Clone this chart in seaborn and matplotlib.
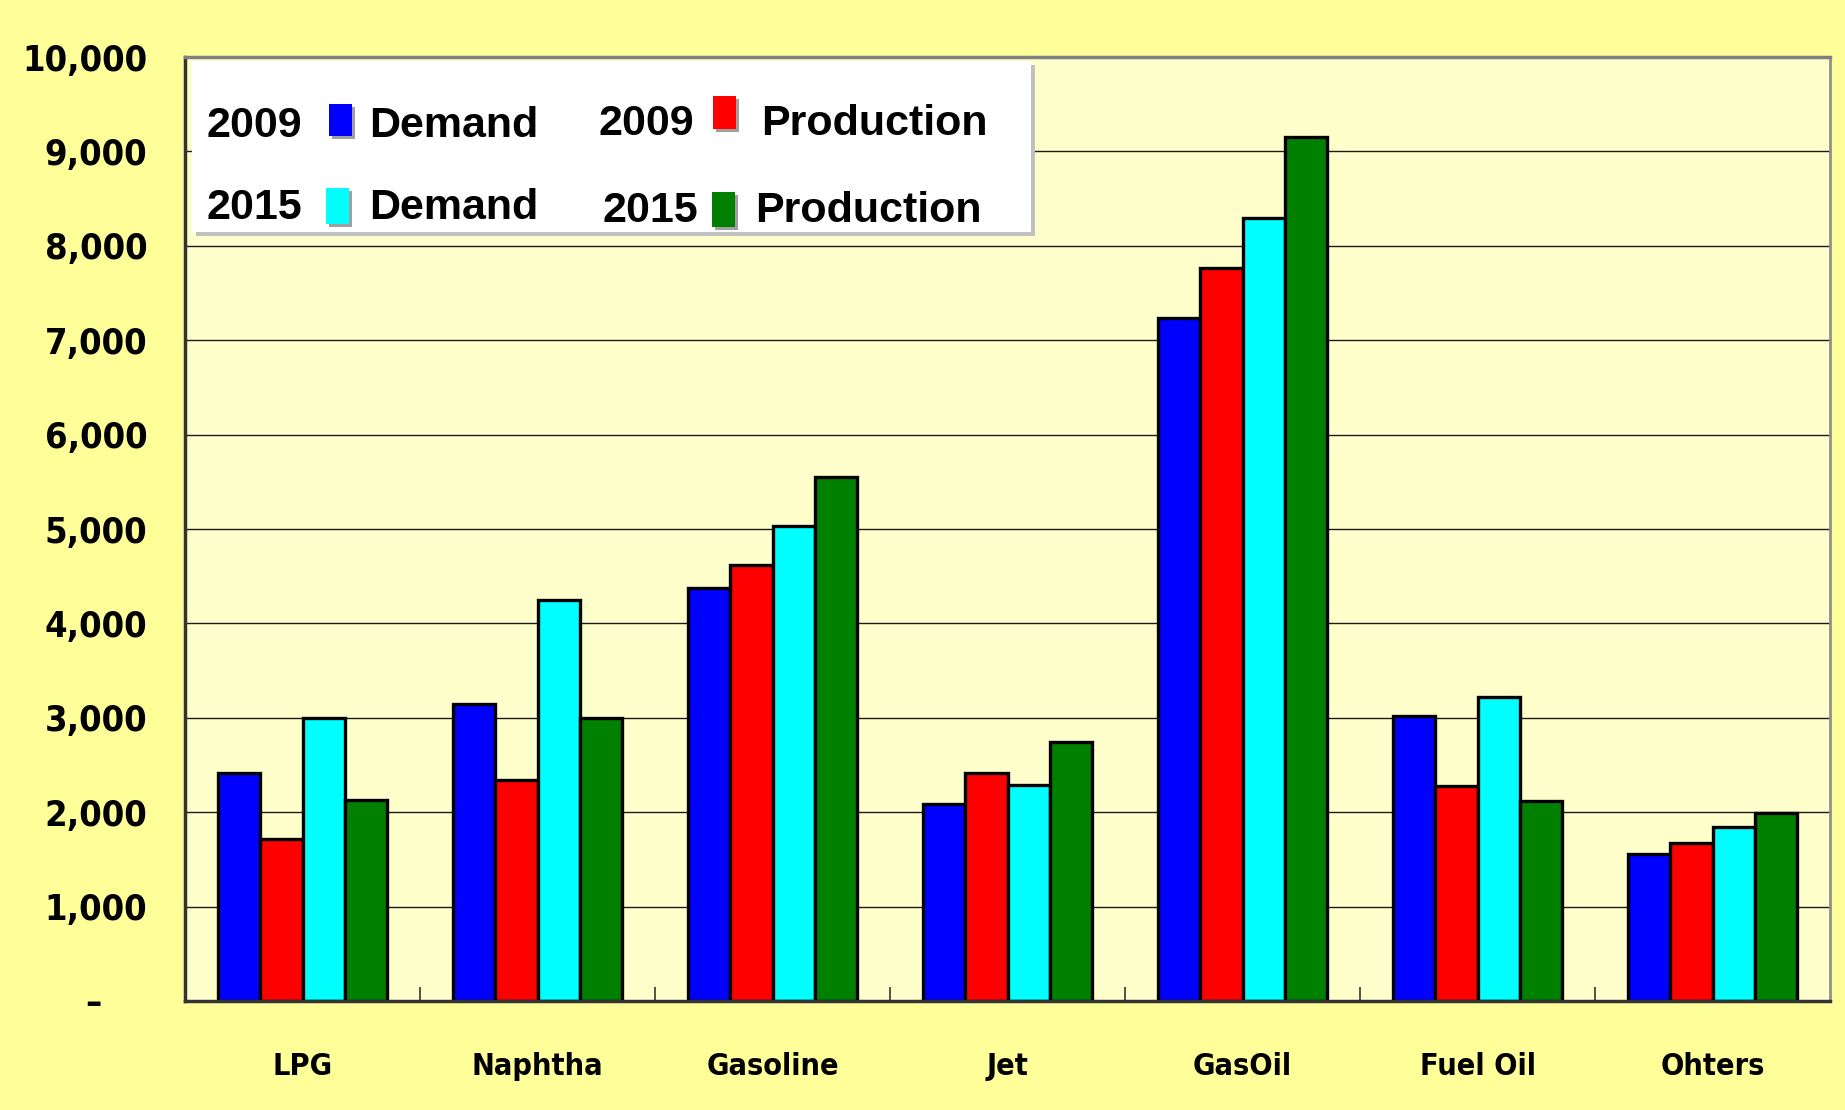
import matplotlib
matplotlib.use('Agg')
import matplotlib.pyplot as plt
from matplotlib.patches import Rectangle
from matplotlib.ticker import FixedLocator, FuncFormatter
import seaborn as sns
import pandas as pd
import numpy as np

categories = ['LPG', 'Naphtha', 'Gasoline', 'Jet', 'GasOil', 'Fuel Oil', 'Ohters']
series_names = ['2009 Demand', '2009 Production', '2015 Demand', '2015 Production']
demand_2009 = [2420, 3150, 4370, 2090, 7240, 3020, 1560]
production_2009 = [1720, 2340, 4620, 2420, 7760, 2280, 1670]
demand_2015 = [3000, 4250, 5030, 2290, 8290, 3220, 1840]
production_2015 = [2130, 3000, 5550, 2740, 9150, 2120, 1990]
y_ticks = list(range(0, 10001, 1000))

def main():
    fig_bg = '#FFFF99'
    plot_bg = '#FFFFCC'
    palette = ['#0000FF', '#FF0000', '#00FFFF', '#008000']
    legend_font = ['Liberation Sans', 'DejaVu Sans']

    rows = []
    for name, vals in zip(series_names, [demand_2009, production_2009, demand_2015, production_2015]):
        for cat, v in zip(categories, vals):
            rows.append({'category': cat, 'series': name, 'value': v})
    df = pd.DataFrame(rows)

    W, H = 1845, 1110
    fig = plt.figure(figsize=(W / 100, H / 100), dpi=100, facecolor=fig_bg)
    ax = fig.add_axes([185 / W, 1 - 1001 / H, (1830 - 185) / W, (1001 - 57) / H])
    ax.set_facecolor(plot_bg)

    sns.barplot(data=df, x='category', y='value', hue='series', hue_order=series_names,
                order=categories, palette=palette, saturation=1, width=0.72, gap=0,
                edgecolor='black', linewidth=2.4, legend=False, ax=ax)

    ax.set_xlim(-0.5, len(categories) - 0.5)
    ax.set_ylim(0, 10000)
    ax.set_axisbelow(True)
    ax.yaxis.grid(True, color='#1a1a1a', linewidth=1.0)
    ax.xaxis.grid(False)

    ax.set_yticks(y_ticks)
    ax.yaxis.set_major_formatter(FuncFormatter(lambda v, p: '–    ' if v == 0 else f'{int(v):,}'))
    ax.tick_params(axis='y', length=0, pad=27)
    ax.tick_params(axis='x', length=0, pad=37)
    ax.xaxis.set_minor_locator(FixedLocator(np.arange(0.5, len(categories) - 1, 1.0)))
    ax.tick_params(axis='x', which='minor', direction='in', length=10, width=1.2, color='#333333')
    for lbl in ax.get_yticklabels():
        lbl.set_fontfamily('DejaVu Sans')
        lbl.set_fontstretch('condensed')
        lbl.set_fontweight('bold')
        lbl.set_fontsize(26)
    for lbl in ax.get_xticklabels():
        lbl.set_fontfamily('DejaVu Sans')
        lbl.set_fontstretch('condensed')
        lbl.set_fontweight('bold')
        lbl.set_fontsize(22)
    ax.set_xlabel('')
    ax.set_ylabel('')

    ax.spines['left'].set_color('#333333')
    ax.spines['left'].set_linewidth(2.5)
    ax.spines['bottom'].set_color('#333333')
    ax.spines['bottom'].set_linewidth(2.5)
    ax.spines['top'].set_color('#808080')
    ax.spines['top'].set_linewidth(2.5)
    ax.spines['right'].set_color('#909090')
    ax.spines['right'].set_linewidth(2.0)

    # custom legend box (year, swatch, label)
    def fx(x):
        return x / W

    def fy(y):
        return 1 - y / H

    fig.patches.append(Rectangle((fx(196), fy(236)), (1031 - 192) / W, (232 - 61) / H,
                                 transform=fig.transFigure, facecolor='#C0C0C0', edgecolor='none', zorder=5))
    fig.patches.append(Rectangle((fx(192), fy(232)), (1031 - 192) / W, (232 - 61) / H,
                                 transform=fig.transFigure, facecolor='white', edgecolor='none', zorder=6))

    swatches = [(329, 104, 136, palette[0]), (713, 96, 129, palette[1]),
                (326, 188, 224, palette[2]), (712, 192, 227, palette[3])]
    for x0, y0, y1, c in swatches:
        fig.patches.append(Rectangle((fx(x0 + 3), fy(y1 + 3)), 23 / W, (y1 - y0) / H,
                                     transform=fig.transFigure, facecolor='#A0A0A0', edgecolor='none', zorder=7))
        fig.patches.append(Rectangle((fx(x0), fy(y1)), 23 / W, (y1 - y0) / H,
                                     transform=fig.transFigure, facecolor=c, edgecolor='none', zorder=8))

    legend_texts = [(206, 126, '2009'), (369, 126, 'Demand'), (598, 124, '2009'), (761, 124, 'Production'),
                    (206, 208, '2015'), (369, 208, 'Demand'), (602, 211, '2015'), (755, 211, 'Production')]
    for x, y, s in legend_texts:
        fig.text(fx(x), fy(y), s, ha='left', va='center', fontsize=31, fontweight='bold',
                 family=legend_font, zorder=9)

    plt.savefig('out.png', dpi=100, facecolor=fig_bg)

if __name__ == '__main__':
    main()
